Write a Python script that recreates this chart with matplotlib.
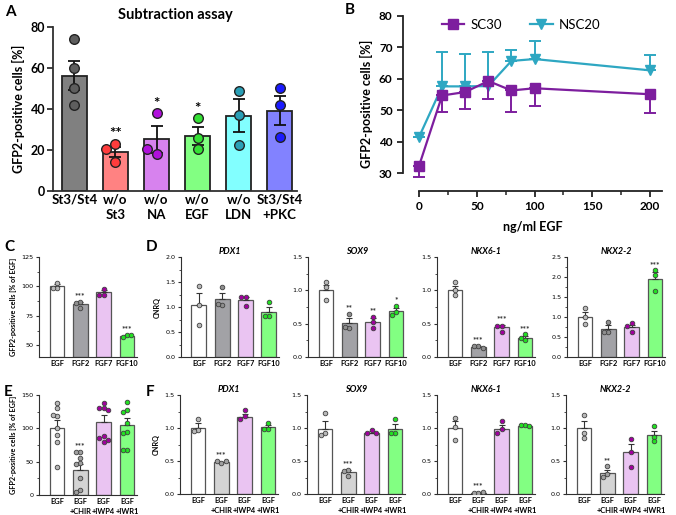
import numpy as np
import matplotlib
matplotlib.use("Agg")
import matplotlib.pyplot as plt
from matplotlib.ticker import MultipleLocator, AutoMinorLocator, FormatStrFormatter

plt.rcParams['font.family'] = ['Lato', 'DejaVu Sans']

# ---------------- data ----------------
# A: subtraction assay
a_labels = ["St3/St4", "w/o\nSt3", "w/o\nNA", "w/o\nEGF", "w/o\nLDN", "St3/St4\n+PKC"]
a_means = [56.2, 19.0, 25.2, 26.9, 36.7, 39.2]
a_sem = [7.0, 2.6, 6.6, 4.5, 8.0, 7.1]
a_points = [[74, 60, 50, 42], [23, 20.5, 14], [38, 18, 20.5], [35.5, 26, 20.5], [49, 37, 22.5], [50, 42, 26.5]]
a_stars = ["", "**", "*", "*", "", ""]
a_bar_colors = ["#808080", "#ff8282", "#d782ee", "#82ff82", "#82ffff", "#8282ff"]
a_dot_colors = ["#5e5e5e", "#ff3c3c", "#b010dc", "#34e034", "#2a9fb6", "#1a1aff"]

# B: EGF titration
b_egf = [0, 20, 40, 60, 80, 100, 200]
b_sc30 = [32.3, 54.7, 55.8, 59.3, 56.3, 57.0, 55.1]
b_sc30_err = [3.6, 5.2, 5.5, 5.8, 6.7, 5.6, 6.1]
b_nsc20 = [41.5, 57.6, 57.6, 57.7, 65.7, 66.3, 62.7]
b_nsc20_err = [0.0, 10.8, 10.2, 11.0, 3.4, 5.9, 4.8]

# C / D: FGF comparison
fgf_labels = ["EGF", "FGF2", "FGF7", "FGF10"]
fgf_bar_colors = ["#ffffff", "#a2a2a6", "#eac4f2", "#82ff82"]
fgf_dot_colors = ["#b8b8b8", "#8e8e8e", "#a0009e", "#22e022"]

c_means = [100.5, 85.0, 95.0, 58.0]
c_sem = [1.8, 1.6, 2.2, 0.8]
c_points = [[103, 99, 99], [87, 82, 86], [98, 93, 93], [59, 57, 59]]
c_stars = ["", "***", "", "***"]

genes = ["PDX1", "SOX9", "NKX6-1", "NKX2-2"]
d_ymax = [2.0, 1.5, 1.5, 2.5]
d_means = [[1.05, 1.17, 1.14, 0.91], [1.00, 0.51, 0.52, 0.69],
           [1.00, 0.15, 0.45, 0.29], [1.01, 0.70, 0.74, 1.95]]
d_sem = [[0.23, 0.12, 0.07, 0.10], [0.08, 0.08, 0.06, 0.04],
         [0.07, 0.02, 0.03, 0.03], [0.12, 0.09, 0.06, 0.17]]
d_points = [[[1.43, 1.05, 0.65], [1.40, 1.05, 1.07], [1.20, 1.20, 1.02], [1.11, 0.83, 0.83]],
            [[1.13, 1.05, 0.85], [0.65, 0.43, 0.45], [0.60, 0.52, 0.44], [0.77, 0.68, 0.63]],
            [[1.13, 1.00, 0.93], [0.16, 0.17, 0.14], [0.47, 0.46, 0.38], [0.34, 0.26, 0.28]],
            [[1.23, 1.00, 0.82], [0.87, 0.63, 0.63], [0.85, 0.77, 0.62], [2.17, 2.05, 1.65]]]
d_stars = [["", "", "", ""], ["", "**", "**", "*"], ["", "***", "***", "***"], ["", "", "", "***"]]

# E / F: Wnt modulation
wnt_labels = ["EGF", "EGF\n+CHIR", "EGF\n+IWP4", "EGF\n+IWR1"]
wnt_bar_colors = ["#ffffff", "#d4d4d4", "#eac4f2", "#82ff82"]
wnt_dot_colors = ["#b8b8b8", "#a0a0a0", "#a0009e", "#22e022"]

e_means = [100, 37, 110, 105]
e_sem = [12, 10, 10, 11]
e_points = [[138, 130, 118, 120, 100, 90, 80, 42],
            [65, 65, 55, 48, 47, 25, 8, 5],
            [138, 130, 130, 128, 88, 85, 80, 82],
            [140, 128, 125, 108, 95, 93, 67, 67]]
e_stars = ["", "***", "", ""]

f_ymax = [1.5, 1.5, 1.5, 1.5]
f_means = [[1.00, 0.48, 1.17, 1.01], [0.98, 0.34, 0.93, 0.99],
           [1.00, 0.02, 0.98, 1.03], [1.00, 0.32, 0.63, 0.89]]
f_sem = [[0.07, 0.01, 0.04, 0.03], [0.12, 0.03, 0.02, 0.07],
         [0.10, 0.01, 0.06, 0.01], [0.11, 0.05, 0.13, 0.07]]
f_points = [[[1.14, 0.97, 0.95], [0.47, 0.50, 0.50], [1.27, 1.18, 1.13], [1.08, 0.99, 0.99]],
            [[1.22, 0.93, 0.90], [0.37, 0.35, 0.27], [0.97, 0.93, 0.92], [1.13, 0.93, 0.93]],
            [[1.15, 1.02, 0.82], [0.02, 0.02, 0.03], [1.10, 0.98, 0.92], [1.05, 1.04, 1.03]],
            [[1.20, 0.93, 0.85], [0.42, 0.30, 0.26], [0.83, 0.63, 0.41], [1.03, 0.87, 0.80]]]
f_stars = [["", "***", "", ""], ["", "***", "", ""], ["", "***", "", ""], ["", "**", "", ""]]

W, H = 676, 515
fig = plt.figure(figsize=(W / 100, H / 100), dpi=100)


def px_axes(left, top, right, bottom):
    return fig.add_axes([left / W, 1 - bottom / H, (right - left) / W, (bottom - top) / H])


def swarm(ax, xc, vals, diam_px):
    # simple beeswarm: shift a point sideways when it would overlap an earlier one
    bb = ax.get_position()
    x0, x1 = ax.get_xlim()
    y0, y1 = ax.get_ylim()
    sx = bb.width * W / (x1 - x0)
    sy = bb.height * H / (y1 - y0)
    placed = []
    xs = []
    for v in vals:
        for k in [0, -1, 1, -2, 2, -3, 3]:
            dx = k * diam_px * 0.95
            ok = all((dx - px) ** 2 + ((v - py) * sy) ** 2 >= (diam_px * 0.9) ** 2 for px, py in placed)
            if ok:
                break
        placed.append((dx, v))
        xs.append(xc + dx / sx)
    return xs


def style_axes(ax, lw, fs):
    for s in ["top", "right"]:
        ax.spines[s].set_visible(False)
    for s in ["left", "bottom"]:
        ax.spines[s].set_linewidth(lw)
        ax.spines[s].set_color("#303030")
    ax.tick_params(axis="y", direction="out", width=lw, labelsize=fs, color="#303030", pad=1.5)
    ax.tick_params(axis="x", length=0, labelsize=fs, pad=2)


def small_bar_panel(ax, means, sem, points, stars, bar_colors, dot_colors, labels, ymin, ymax, step,
                    fmt="%.1f", title=None, ylabel=None):
    x = np.arange(len(means))
    ax.set_xlim(-0.77, 3.43)
    ax.set_ylim(ymin, ymax)
    ax.bar(x, [m - ymin for m in means], bottom=ymin, width=0.64, color=bar_colors,
           edgecolor="#555555", linewidth=0.9, zorder=1)
    for i in range(len(means)):
        ax.errorbar(x[i], means[i], yerr=[[0], [sem[i]]], color="#333333", lw=0.8,
                    capsize=2.2, capthick=0.8, zorder=2)
        xs = swarm(ax, x[i], points[i], 4.6)
        ax.scatter(xs, points[i], s=11, c=dot_colors[i], edgecolors="#404040", linewidths=0.6, zorder=3)
        if stars[i]:
            top = max(max(points[i]), means[i] + sem[i])
            ax.text(x[i], top + (ymax - ymin) * 0.025, stars[i], ha="center", va="bottom",
                    fontsize=6, fontweight="bold", color="#333333")
    style_axes(ax, 0.8, 5.4)
    ax.tick_params(axis="y", length=2.5)
    ax.tick_params(axis="y", which="minor", length=1.5, width=0.6, color="#303030")
    ax.yaxis.set_major_locator(MultipleLocator(step))
    ax.yaxis.set_minor_locator(AutoMinorLocator(2))
    ax.yaxis.set_major_formatter(FormatStrFormatter(fmt))
    ax.set_xticks(x)
    ax.set_xticklabels(labels, fontsize=5.4, fontweight="bold", linespacing=1.6)
    for t in ax.get_yticklabels():
        t.set_family(["DejaVu Sans"])
        t.set_fontsize(4.6)
    if title:
        ax.set_title(title, fontsize=6.5, style="italic", fontweight="bold", pad=2)
    if ylabel:
        ax.set_ylabel(ylabel, fontsize=5.2, fontweight="bold", labelpad=3)


# ---------------- panel A ----------------
ax = px_axes(53, 27, 297, 191)
xa = np.arange(len(a_means))
ax.set_xlim(-0.52, 5.42)
ax.set_ylim(0, 80)
ax.bar(xa, a_means, width=0.62, color=a_bar_colors, edgecolor="#222222", linewidth=1.3, zorder=1)
for i in range(len(a_means)):
    ax.errorbar(xa[i], a_means[i], yerr=a_sem[i], color="#111111", lw=1.3, capsize=4.5, capthick=1.3, zorder=2)
    xs = swarm(ax, xa[i], a_points[i], 9.5)
    ax.scatter(xs, a_points[i], s=48, c=a_dot_colors[i], edgecolors="#222222", linewidths=1.0, zorder=3)
    if a_stars[i]:
        top = max(max(a_points[i]), a_means[i] + a_sem[i])
        ax.text(xa[i], top + 1.2, a_stars[i], ha="center", va="bottom", fontsize=11, fontweight="bold")
style_axes(ax, 1.3, 9)
ax.tick_params(axis="y", length=4)
ax.yaxis.set_major_locator(MultipleLocator(20))
ax.set_xticks(xa)
ax.set_xticklabels(a_labels, fontsize=9.5, fontweight="bold", linespacing=1.3)
for t in ax.get_yticklabels():
    t.set_fontweight("bold")
ax.set_ylabel("GFP2-positive cells [%]", fontsize=9, fontweight="bold", labelpad=4)
ax.set_title("Subtraction assay", fontsize=10.5, fontweight="bold", pad=6)

# ---------------- panel B ----------------
ax = px_axes(403, 16, 662, 191)
ax.set_xlim(-13.9, 210.4)
ax.set_ylim(24.3, 80)
c_sc, c_nsc = "#7d1e9e", "#2ea7c2"
ax.errorbar(b_egf, b_sc30, yerr=[b_sc30_err, [0] * len(b_sc30_err)], color=c_sc, lw=1.6,
            marker="s", ms=7, capsize=4, capthick=1.4, elinewidth=1.4, label="SC30", zorder=3)
ax.errorbar(b_egf, b_nsc20, yerr=[[0] * len(b_nsc20_err), b_nsc20_err], color=c_nsc, lw=1.6,
            marker="v", ms=7, capsize=4, capthick=1.4, elinewidth=1.4, label="NSC20", zorder=2)
for s in ["top", "right"]:
    ax.spines[s].set_visible(False)
for s in ["left", "bottom"]:
    ax.spines[s].set_linewidth(1.3)
    ax.spines[s].set_color("#222222")
ax.spines["left"].set_bounds(30, 80)
ax.spines["bottom"].set_bounds(0, 210)
ax.set_yticks([30, 40, 50, 60, 70, 80])
ax.set_xticks([0, 50, 100, 150, 200])
ax.xaxis.set_minor_locator(MultipleLocator(25))
ax.tick_params(direction="out", width=1.3, length=4, labelsize=8.5, color="#222222")
ax.tick_params(axis="x", which="minor", width=1.1, length=3, color="#222222")
for t in ax.get_yticklabels() + ax.get_xticklabels():
    t.set_fontweight("bold")
ax.set_ylabel("GFP2-positive cells [%]", fontsize=9, fontweight="bold", labelpad=4)
ax.set_xlabel("ng/ml EGF", fontsize=9, fontweight="bold", labelpad=6)
handles, labs = ax.get_legend_handles_labels()
ax.legend([h[0] for h in handles], labs, loc="center left", bbox_to_anchor=(0.15, 0.95), ncol=2,
          frameon=False, fontsize=9.5, handlelength=1.7, columnspacing=2.1, handletextpad=0.5,
          borderpad=0, borderaxespad=0)

# ---------------- panel C ----------------
ax = px_axes(39, 257, 137, 357)
small_bar_panel(ax, c_means, c_sem, c_points, c_stars, fgf_bar_colors, fgf_dot_colors,
                fgf_labels, 40, 125, 25, fmt="%d", ylabel="GFP2-positive cells [% of EGF]")
ax.set_yticks([50, 75, 100, 125])
for t in ax.get_yticklabels():
    t.set_family(["DejaVu Sans"])
    t.set_fontsize(4.6)

# ---------------- panel D ----------------
d_lefts = [181, 308, 437, 567]
for g in range(4):
    ax = px_axes(d_lefts[g], 257, d_lefts[g] + 98, 357)
    small_bar_panel(ax, d_means[g], d_sem[g], d_points[g], d_stars[g], fgf_bar_colors, fgf_dot_colors,
                    fgf_labels, 0, d_ymax[g], 0.5, title=genes[g], ylabel="CNRQ" if g == 0 else None)

# ---------------- panel E ----------------
ax = px_axes(39, 395, 137, 495)
small_bar_panel(ax, e_means, e_sem, e_points, e_stars, wnt_bar_colors, wnt_dot_colors,
                wnt_labels, 0, 150, 50, fmt="%d", ylabel="GFP2-positive cells [% of EGF]")

# ---------------- panel F ----------------
f_lefts = [180, 307, 437, 566]
for g in range(4):
    ax = px_axes(f_lefts[g], 395, f_lefts[g] + 98, 494)
    small_bar_panel(ax, f_means[g], f_sem[g], f_points[g], f_stars[g], wnt_bar_colors, wnt_dot_colors,
                    wnt_labels, 0, f_ymax[g], 0.5, title=genes[g], ylabel="CNRQ" if g == 0 else None)

# panel letters
for letter, (px, py) in zip("ABCDEF", [(5, 16), (345, 14), (4, 251), (146, 251), (4, 396), (146, 396)]):
    fig.text(px / W, 1 - py / H, letter, fontsize=11, fontweight="bold")

fig.savefig("out.png", dpi=100)
